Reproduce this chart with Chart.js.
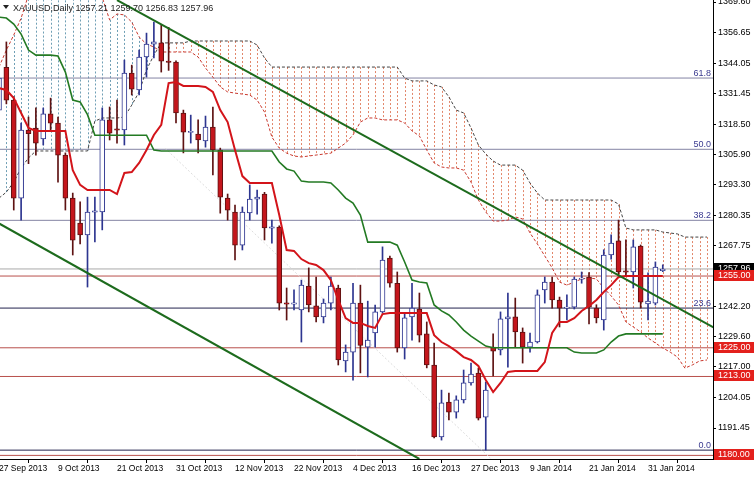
<!DOCTYPE html>
<html>
<head>
<meta charset="utf-8">
<script src="https://cdn.jsdelivr.net/npm/chart.js@4.4.0/dist/chart.umd.min.js"></script>
<style>
  html, body { margin: 0; padding: 0; background: #fff; }
  canvas { display: block; }
</style>
</head>
<body>
<canvas id="chart" width="754" height="477"></canvas>
<script>
const SYMBOL = 'XAUUSD,Daily';

// x axis labels, one every 8 bars
const X_LABEL_BARS = [0, 8, 16, 24, 32, 40, 48, 56, 64, 72, 80, 88];
const X_LABELS = ['27 Sep 2013', '9 Oct 2013', '21 Oct 2013', '31 Oct 2013', '12 Nov 2013', '22 Nov 2013',
                  '4 Dec 2013', '16 Dec 2013', '27 Dec 2013', '9 Jan 2014', '21 Jan 2014', '31 Jan 2014'];
const Y_TICKS = [1369.60, 1356.65, 1344.05, 1331.45, 1318.50, 1305.90, 1293.30, 1280.35, 1267.75,
                 1242.20, 1229.60, 1217.00, 1204.05, 1191.45];

// daily candles, 27 Sep 2013 .. 4 Feb 2014
const OPEN = [1324.4,1342.3,1328.6,1287.6,1316.0,1316.9,1312.3,1322.8,1319.0,1305.6,
  1287.6,1277.2,1272.2,1281.8,1281.8,1320.3,1316.5,1316.1,1339.9,1332.8,
  1346.6,1352.0,1352.5,1344.9,1344.5,1323.2,1315.2,1314.4,1311.5,1317.3,
  1307.7,1287.6,1281.8,1267.9,1281.4,1287.2,1289.3,1275.1,1275.5,1243.7,
  1243.3,1240.8,1250.8,1242.5,1237.9,1243.7,1250.0,1219.5,1223.2,1243.7,
  1225.3,1231.2,1240.0,1262.5,1252.0,1224.9,1237.9,1241.2,1230.8,1217.8,
  1187.7,1202.3,1198.1,1203.2,1210.3,1214.4,1196.0,1225.3,1224.1,1237.1,
  1237.9,1231.6,1225.3,1227.4,1249.2,1252.5,1245.0,1241.6,1242.0,1253.7,
  1254.6,1241.6,1236.6,1263.8,1269.7,1257.1,1256.7,1267.5,1243.3,1243.7,
  1257.21];
const HIGH = [1350.0,1352.9,1330.0,1319.0,1321.5,1325.3,1325.3,1329.4,1321.5,1306.5,
  1289.7,1286.0,1288.0,1288.0,1325.3,1325.7,1328.6,1345.3,1343.2,1349.5,
  1356.6,1361.2,1360.0,1359.0,1345.0,1324.4,1322.3,1320.3,1321.9,1325.7,
  1308.5,1289.3,1284.7,1283.9,1293.1,1291.0,1290.0,1278.4,1276.0,1250.0,
  1249.2,1253.3,1258.4,1254.6,1245.4,1254.6,1251.2,1226.2,1252.0,1251.2,
  1244.5,1242.9,1267.2,1263.4,1256.7,1239.5,1252.0,1247.9,1235.8,1227.0,
  1207.3,1206.1,1204.9,1215.7,1218.6,1216.5,1210.7,1230.8,1240.0,1247.9,
  1245.8,1233.3,1231.2,1249.2,1254.6,1254.6,1246.2,1247.1,1254.6,1256.7,
  1256.5,1243.0,1266.0,1272.2,1278.4,1270.1,1270.1,1268.0,1256.3,1260.9,
  1259.70];
const LOW = [1318.0,1327.0,1282.6,1278.4,1302.0,1305.6,1309.8,1316.0,1294.3,1282.6,
  1263.8,1268.4,1250.4,1269.3,1274.3,1311.9,1310.6,1309.8,1330.7,1330.7,
  1338.2,1346.2,1340.3,1341.0,1319.0,1306.5,1310.6,1306.5,1308.9,1297.3,
  1281.3,1278.4,1261.7,1265.9,1278.4,1280.9,1270.1,1268.8,1240.8,1236.6,
  1240.8,1227.4,1240.0,1235.8,1235.4,1240.8,1217.8,1214.9,1211.5,1214.5,
  1212.8,1225.3,1239.5,1250.4,1223.2,1220.3,1228.2,1227.4,1216.6,1187.3,
  1186.4,1194.8,1195.6,1201.9,1209.4,1194.8,1182.2,1213.2,1222.0,1216.9,
  1225.3,1218.6,1223.2,1227.0,1243.7,1241.6,1233.7,1236.6,1241.2,1252.0,
  1235.0,1235.4,1232.4,1262.1,1255.4,1255.0,1250.0,1241.6,1236.6,1242.9,
  1256.83];
const CLOSE = [1337.8,1328.6,1287.6,1316.0,1314.5,1310.6,1322.8,1318.9,1305.6,1287.6,
  1270.0,1272.2,1281.8,1282.2,1320.3,1314.8,1316.1,1339.9,1333.2,1346.6,
  1352.0,1352.9,1344.9,1344.3,1323.2,1315.2,1315.4,1311.9,1317.3,1307.7,
  1288.0,1282.6,1267.9,1281.8,1287.2,1288.0,1275.1,1275.5,1243.7,1243.3,
  1243.7,1251.2,1242.9,1237.9,1243.7,1250.8,1219.9,1223.2,1243.7,1226.0,
  1228.2,1240.0,1261.7,1252.0,1224.9,1237.5,1241.6,1230.3,1217.8,1187.7,
  1202.0,1198.1,1203.2,1210.3,1214.0,1195.6,1207.3,1223.6,1237.1,1237.9,
  1231.6,1225.3,1227.4,1247.1,1252.5,1245.0,1241.6,1242.0,1253.7,1254.2,
  1242.0,1237.5,1263.8,1268.8,1256.7,1256.7,1267.2,1244.1,1244.5,1258.8,
  1257.96];

// Ichimoku lines
const TENKAN = [1333.6,1332.8,1329.4,1323.2,1316.9,1315.7,1315.7,1315.7,1315.7,1315.7,
  1299.3,1293.1,1291.0,1291.0,1291.0,1291.0,1289.3,1298.1,1298.5,1302.3,
  1307.7,1314.0,1318.2,1335.7,1336.1,1334.5,1334.5,1334.5,1334.1,1332.0,
  1324.4,1319.4,1307.7,1296.8,1293.9,1293.9,1293.9,1293.9,1280.5,1265.9,
  1265.5,1262.1,1260.4,1259.6,1257.5,1253.3,1245.0,1237.4,1235.4,1235.4,
  1234.1,1233.3,1239.1,1239.5,1239.5,1239.5,1239.5,1239.5,1239.5,1230.3,
  1227.4,1225.7,1223.6,1221.1,1219.9,1217.4,1211.5,1206.5,1210.3,1214.9,
  1215.3,1215.3,1215.3,1215.3,1219.0,1231.2,1235.8,1235.8,1237.4,1240.4,
  1242.5,1245.0,1248.3,1251.2,1254.6,1255.0,1255.0,1255.0,1255.0,1255.0,
  1255.0];
const KIJUN = [1363.3,1362.9,1360.4,1356.2,1349.5,1347.4,1347.4,1347.4,1347.0,1340.3,
  1328.6,1327.8,1322.5,1313.9,1313.9,1313.9,1313.9,1313.9,1313.9,1313.9,
  1313.9,1307.7,1307.3,1307.3,1307.3,1307.3,1307.3,1307.3,1307.3,1307.3,
  1307.3,1307.3,1307.3,1307.3,1307.3,1307.3,1307.3,1307.3,1302.7,1299.8,
  1298.9,1294.7,1294.3,1294.3,1294.3,1293.9,1291.0,1287.6,1285.5,1280.5,
  1269.2,1269.2,1269.2,1269.2,1267.9,1260.9,1253.3,1252.5,1252.1,1242.9,
  1240.4,1238.7,1235.8,1232.4,1229.9,1227.8,1225.7,1225.0,1225.0,1225.0,
  1225.0,1225.0,1225.0,1225.0,1225.0,1225.0,1225.0,1225.0,1223.2,1222.8,
  1222.8,1222.8,1224.1,1227.4,1229.9,1230.8,1230.8,1230.8,1230.8,1230.8,
  1230.8];
const SPAN_A = [1342.4,1349.5,1355.8,1362.9,1372.5,1376.0,1379.0,1381.0,1382.0,1382.0,
  1381.0,1379.0,1377.0,1374.0,1371.5,1362.1,1364.6,1364.2,1361.2,1355.0,
  1352.0,1350.8,1348.7,1348.7,1348.7,1348.7,1348.7,1346.6,1342.0,1338.2,
  1334.1,1332.0,1331.5,1331.1,1330.7,1328.6,1323.6,1313.1,1308.5,1306.4,
  1305.2,1304.8,1305.2,1305.6,1306.0,1306.4,1308.5,1310.6,1314.0,1319.4,
  1321.1,1321.1,1320.3,1320.3,1320.3,1319.0,1315.7,1313.6,1307.7,1302.3,
  1300.6,1300.2,1300.2,1299.3,1294.3,1286.8,1281.8,1278.0,1278.0,1278.4,
  1279.7,1278.9,1273.0,1268.4,1263.4,1258.4,1252.5,1251.2,1252.5,1253.8,
  1254.2,1253.8,1250.0,1246.7,1242.9,1235.8,1233.7,1231.6,1229.1,1227.0,
  1224.9,1223.2,1221.1,1216.5,1217.8,1219.5,1219.9];
const SPAN_B = [1287.6,1290.1,1294.3,1300.2,1304.4,1307.3,1307.3,1307.3,1307.3,1307.3,
  1307.3,1307.3,1307.3,1319.8,1321.1,1321.1,1321.1,1321.5,1326.5,1332.0,
  1341.2,1347.4,1352.5,1352.5,1352.5,1352.5,1353.3,1353.3,1353.3,1353.3,
  1353.3,1353.3,1353.3,1353.3,1353.3,1351.6,1346.2,1342.4,1342.4,1342.4,
  1342.4,1342.4,1342.4,1342.4,1342.4,1342.4,1342.4,1342.4,1342.4,1342.4,
  1342.4,1342.4,1342.4,1342.4,1342.4,1337.8,1336.6,1336.6,1336.6,1334.9,
  1334.1,1329.9,1324.4,1323.2,1316.9,1309.8,1306.0,1303.1,1301.4,1301.4,
  1301.4,1299.3,1293.9,1289.7,1286.8,1286.8,1286.8,1286.8,1286.8,1286.8,
  1286.8,1286.8,1286.8,1286.8,1285.1,1275.1,1274.3,1274.3,1274.3,1274.3,
  1273.4,1273.0,1272.6,1271.3,1271.3,1271.3,1271.3];

// drawn objects
const FIB_NAMES = ['61.8', '50.0', '38.2', '23.6', '0.0'];
const FIB_LEVELS = [1337.8, 1308.0, 1278.3, 1241.6, 1182.2];
const PRICE_LEVELS = [1255.00, 1225.00, 1213.00, 1180.00];
const LAST_PRICE = 1257.96;
const TREND_UPPER = [{x: 16, y: 1370.4}, {x: 97, y: 1233.3}];
const TREND_LOWER = [{x: 0, y: 1277.0}, {x: 57, y: 1178.5}];
const FAINT_LINE = [{x: 22.5, y: 1308.5}, {x: 66.6, y: 1178.9}];

const X_MIN = 0.136, X_MAX = 96.81;
const Y_MIN = 1178.49, Y_MAX = 1370.44;
const FONT = '"Liberation Sans", Arial, sans-serif';

const bull = i => CLOSE[i] >= OPEN[i];

const wicks = OPEN.map((o, i) => ({x: i, y: [LOW[i], HIGH[i]]}));
const bodies = OPEN.map((o, i) => {
    let lo = Math.min(o, CLOSE[i]), hi = Math.max(o, CLOSE[i]);
    if (hi - lo < 0.5) { const m = (hi + lo) / 2; lo = m - 0.25; hi = m + 0.25; }
    return {x: i, y: [lo, hi]};
});

const series = arr => arr.map((v, i) => ({x: i, y: v}));

function hline(v, color, order) {
    return {
        type: 'line', data: [{x: X_MIN, y: v}, {x: X_MAX, y: v}],
        borderColor: color, borderWidth: 1, pointRadius: 0, order,
    };
}

// vertical dotted hatching between the two senkou spans
const cloudHatch = {
    id: 'cloudHatch',
    beforeDatasetsDraw(chart) {
        const {ctx, chartArea: a, scales: {x, y}} = chart;
        ctx.save();
        ctx.beginPath();
        ctx.rect(a.left, a.top, a.right - a.left, a.bottom - a.top);
        ctx.clip();
        ctx.lineWidth = 1;
        ctx.setLineDash([2, 2]);
        SPAN_A.forEach((va, i) => {
            const vb = SPAN_B[i];
            const px = Math.round(x.getPixelForValue(i)) + 0.5;
            const ya = y.getPixelForValue(va), yb = y.getPixelForValue(vb);
            ctx.strokeStyle = va >= vb ? '#6f9fb5' : '#e2866a';
            ctx.beginPath();
            ctx.moveTo(px, Math.min(ya, yb));
            ctx.lineTo(px, Math.max(ya, yb));
            ctx.stroke();
        });
        ctx.restore();
    },
};

const overlay = {
    id: 'overlay',
    afterDraw(chart) {
        const {ctx, chartArea: a, scales: {y}} = chart;
        ctx.save();
        ctx.font = '9px ' + FONT;

        ctx.fillStyle = '#3a3a90';
        ctx.textAlign = 'right';
        ctx.textBaseline = 'alphabetic';
        FIB_LEVELS.forEach((v, i) => ctx.fillText(FIB_NAMES[i], a.right - 2, y.getPixelForValue(v) - 2));

        const box = (v, bg) => {
            const py = Math.round(y.getPixelForValue(v));
            ctx.fillStyle = bg;
            ctx.fillRect(a.right + 1, py - 6, chart.width - a.right - 1, 11);
            ctx.fillStyle = '#fff';
            ctx.textAlign = 'left';
            ctx.textBaseline = 'middle';
            ctx.fillText(v.toFixed(2), a.right + 5, py);
        };
        box(LAST_PRICE, '#000');
        PRICE_LEVELS.forEach(v => box(v, '#e3201c'));

        // header
        const n = OPEN.length - 1;
        ctx.fillStyle = '#222';
        ctx.beginPath();
        ctx.moveTo(3, 5); ctx.lineTo(9, 5); ctx.lineTo(6, 9); ctx.closePath();
        ctx.fill();
        ctx.textAlign = 'left';
        ctx.textBaseline = 'alphabetic';
        ctx.fillText(`${SYMBOL} ${OPEN[n].toFixed(2)} ${HIGH[n].toFixed(2)} ${LOW[n].toFixed(2)} ${CLOSE[n].toFixed(2)}`, 13, 11);
        ctx.restore();
    },
};

const datasets = [
    ...FIB_LEVELS.map((v, i) => hline(v, i < 3 ? '#8484a4' : '#23234f', 20)),
    ...PRICE_LEVELS.map(v => hline(v, '#b9504c', 20)),
    hline(LAST_PRICE, '#a9a9a9', 20),
    {type: 'line', data: FAINT_LINE, borderColor: '#dcdcdc', borderWidth: 1, borderDash: [2, 2], pointRadius: 0, order: 19},
    {type: 'line', data: series(SPAN_A), borderColor: '#c8372d', borderWidth: 1, borderDash: [3, 2], pointRadius: 0, order: 15},
    {type: 'line', data: series(SPAN_B), borderColor: '#444', borderWidth: 1, borderDash: [3, 2], pointRadius: 0, order: 15},
    {
        type: 'bar', data: wicks, barThickness: 1, grouped: false, order: 8,
        backgroundColor: OPEN.map((o, i) => bull(i) ? '#2d3590' : '#5e1212'),
    },
    {
        type: 'bar', data: bodies, barThickness: 5, grouped: false, order: 7, borderWidth: 1, borderSkipped: false,
        backgroundColor: OPEN.map((o, i) => bull(i) ? '#fff' : '#c4161c'),
        borderColor: OPEN.map((o, i) => bull(i) ? '#2d3590' : '#5e1212'),
    },
    {type: 'line', data: series(KIJUN), borderColor: '#237a23', borderWidth: 1.6, pointRadius: 0, order: 5},
    {type: 'line', data: series(TENKAN), borderColor: '#d3141a', borderWidth: 2, pointRadius: 0, order: 4},
    {type: 'line', data: TREND_UPPER, borderColor: '#1d6b1d', borderWidth: 2, pointRadius: 0, order: 3},
    {type: 'line', data: TREND_LOWER, borderColor: '#1d6b1d', borderWidth: 2, pointRadius: 0, order: 3},
];

new Chart(document.getElementById('chart'), {
    type: 'bar',
    data: {datasets},
    options: {
        responsive: false,
        animation: false,
        layout: {padding: 0},
        plugins: {legend: {display: false}, tooltip: {enabled: false}},
        scales: {
            x: {
                type: 'linear', min: X_MIN, max: X_MAX, offset: false,
                afterBuildTicks: s => { s.ticks = X_LABEL_BARS.map(v => ({value: v})); },
                afterFit: s => { s.height = 18; s.paddingLeft = 0; s.paddingRight = 0; },
                ticks: {
                    align: 'start', autoSkip: false, maxRotation: 0, padding: 1, color: '#000',
                    font: {family: FONT, size: 8.5},
                    callback: v => X_LABELS[X_LABEL_BARS.indexOf(v)] ?? '',
                },
                grid: {drawOnChartArea: false, tickLength: 4, color: '#000'},
                border: {color: '#000'},
            },
            y: {
                type: 'linear', position: 'right', min: Y_MIN, max: Y_MAX,
                afterBuildTicks: s => { s.ticks = Y_TICKS.map(v => ({value: v})); },
                afterFit: s => { s.width = 41; s.paddingTop = 0; s.paddingBottom = 0; },
                ticks: {color: '#000', padding: 2, font: {family: FONT, size: 9}, callback: v => v.toFixed(2)},
                grid: {drawOnChartArea: false, tickLength: 3, color: '#000'},
                border: {color: '#000'},
            },
        },
    },
    plugins: [cloudHatch, overlay],
});
</script>
</body>
</html>
